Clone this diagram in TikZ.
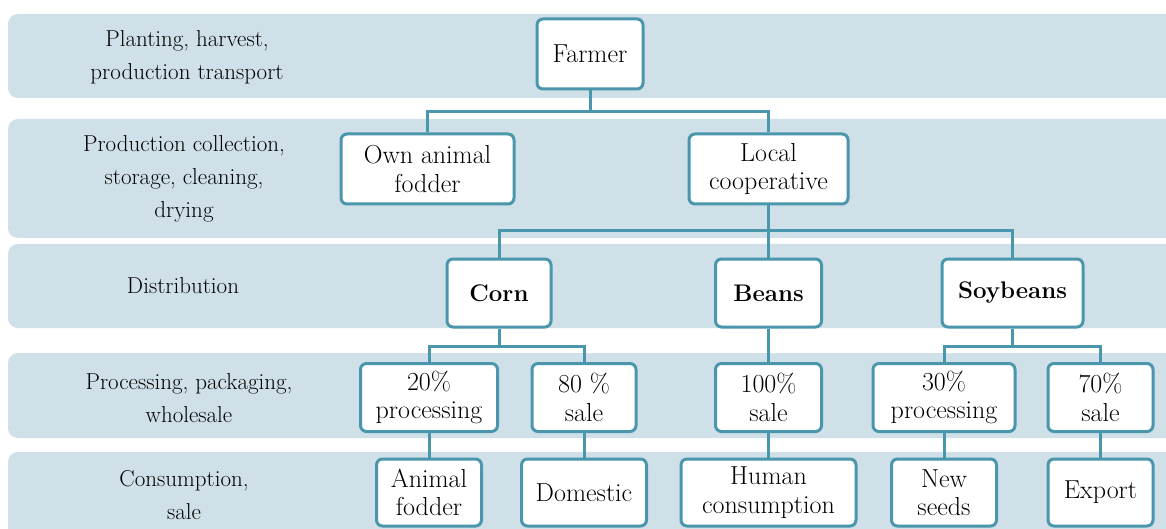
\documentclass[tikz,border=0pt]{standalone}
\usepackage{fontspec}
\definecolor{bandc}{RGB}{207,224,232}
\definecolor{edgec}{RGB}{74,150,172}
\begin{document}
\begin{tikzpicture}[x=1pt,y=-1pt,
  box/.style={draw=edgec, line width=3pt, rounded corners=6pt, fill=white, align=center, inner sep=0pt, font=\fontsize{26}{28.5}\selectfont},
  boldbox/.style={box, font=\fontsize{24}{28}\selectfont\bfseries},
  lbl/.style={align=center, inner sep=0pt, font=\fontsize{23}{33}\selectfont},
  link/.style={draw=edgec, line width=3pt},
  bandbox/.style={fill=bandc, rounded corners=10pt}]
\clip (0,0) rectangle (1166,529);
\fill[white] (0,0) rectangle (1166,529);
% bands
\path[bandbox] (8,14) rectangle (1190,98);
\path[bandbox] (8,119) rectangle (1190,238);
\path[bandbox] (8,244) rectangle (1190,328);
\path[bandbox] (8,353) rectangle (1190,438);
\path[bandbox] (8,452) rectangle (1190,560);
% stage labels
\node[lbl] (l1) at (187,57) {Planting, harvest,\\production transport};
\node[lbl] (l2) at (184,179) {Production collection,\\storage, cleaning,\\drying};
\node[lbl] (l3) at (183,286) {Distribution};
\node[lbl] (l4) at (189,398) {Processing, packaging,\\wholesale};
\node[lbl] (l5) at (184,495) {Consumption,\\sale};
% boxes
\node[box, minimum width=106pt, minimum height=70pt] (farmer) at (590,54) {Farmer};
\node[box, minimum width=173pt, minimum height=70pt] (own) at (427.5,169) {Own animal\\fodder};
\node[box, minimum width=159pt, minimum height=70pt] (coop) at (768.5,169) {Local\\cooperative};
\node[boldbox, minimum width=104pt, minimum height=68pt] (corn) at (499,293) {Corn};
\node[boldbox, minimum width=106pt, minimum height=68pt] (beans) at (768.5,293) {Beans};
\node[boldbox, minimum width=141pt, minimum height=68pt] (soy) at (1012.5,293) {Soybeans};
\node[box, minimum width=137pt, minimum height=68pt] (p20) at (429,397.5) {20\%\\processing};
\node[box, minimum width=104pt, minimum height=68pt] (s80) at (584,397.5) {80 \%\\sale};
\node[box, minimum width=106pt, minimum height=68pt] (s100) at (768.5,397.5) {100\%\\sale};
\node[box, minimum width=142pt, minimum height=68pt] (p30) at (944,397.5) {30\%\\processing};
\node[box, minimum width=105pt, minimum height=68pt] (s70) at (1100.5,397.5) {70\%\\sale};
\node[box, minimum width=105pt, minimum height=67pt] (afod) at (429,492.5) {Animal\\fodder};
\node[box, minimum width=125pt, minimum height=67pt] (dom) at (584,492.5) {Domestic};
\node[box, minimum width=175pt, minimum height=67pt] (human) at (768.5,492.5) {Human\\consumption};
\node[box, minimum width=105pt, minimum height=67pt] (seeds) at (944,492.5) {New\\seeds};
\node[box, minimum width=105pt, minimum height=67pt] (export) at (1100.5,492.5) {Export};
% junctions
\coordinate (j1) at (590,112);
\coordinate (j2) at (768.5,231);
\coordinate (j3) at (499,346);
\coordinate (j4) at (1012.5,346);
% connectors
\draw[link] (farmer.south) -- (j1) -| (own.north);
\draw[link] (j1) -| (coop.north);
\draw[link] (coop.south) -- (j2) -| (corn.north);
\draw[link] (j2) -| (soy.north);
\draw[link] (j2) -- (beans.north);
\draw[link] (corn.south) -- (j3) -| (p20.north);
\draw[link] (j3) -| (s80.north);
\draw[link] (beans.south) -- (s100.north);
\draw[link] (soy.south) -- (j4) -| (p30.north);
\draw[link] (j4) -| (s70.north);
\draw[link] (p20.south) -- (afod.north);
\draw[link] (s80.south) -- (dom.north);
\draw[link] (s100.south) -- (human.north);
\draw[link] (p30.south) -- (seeds.north);
\draw[link] (s70.south) -- (export.north);
\end{tikzpicture}
\end{document}
